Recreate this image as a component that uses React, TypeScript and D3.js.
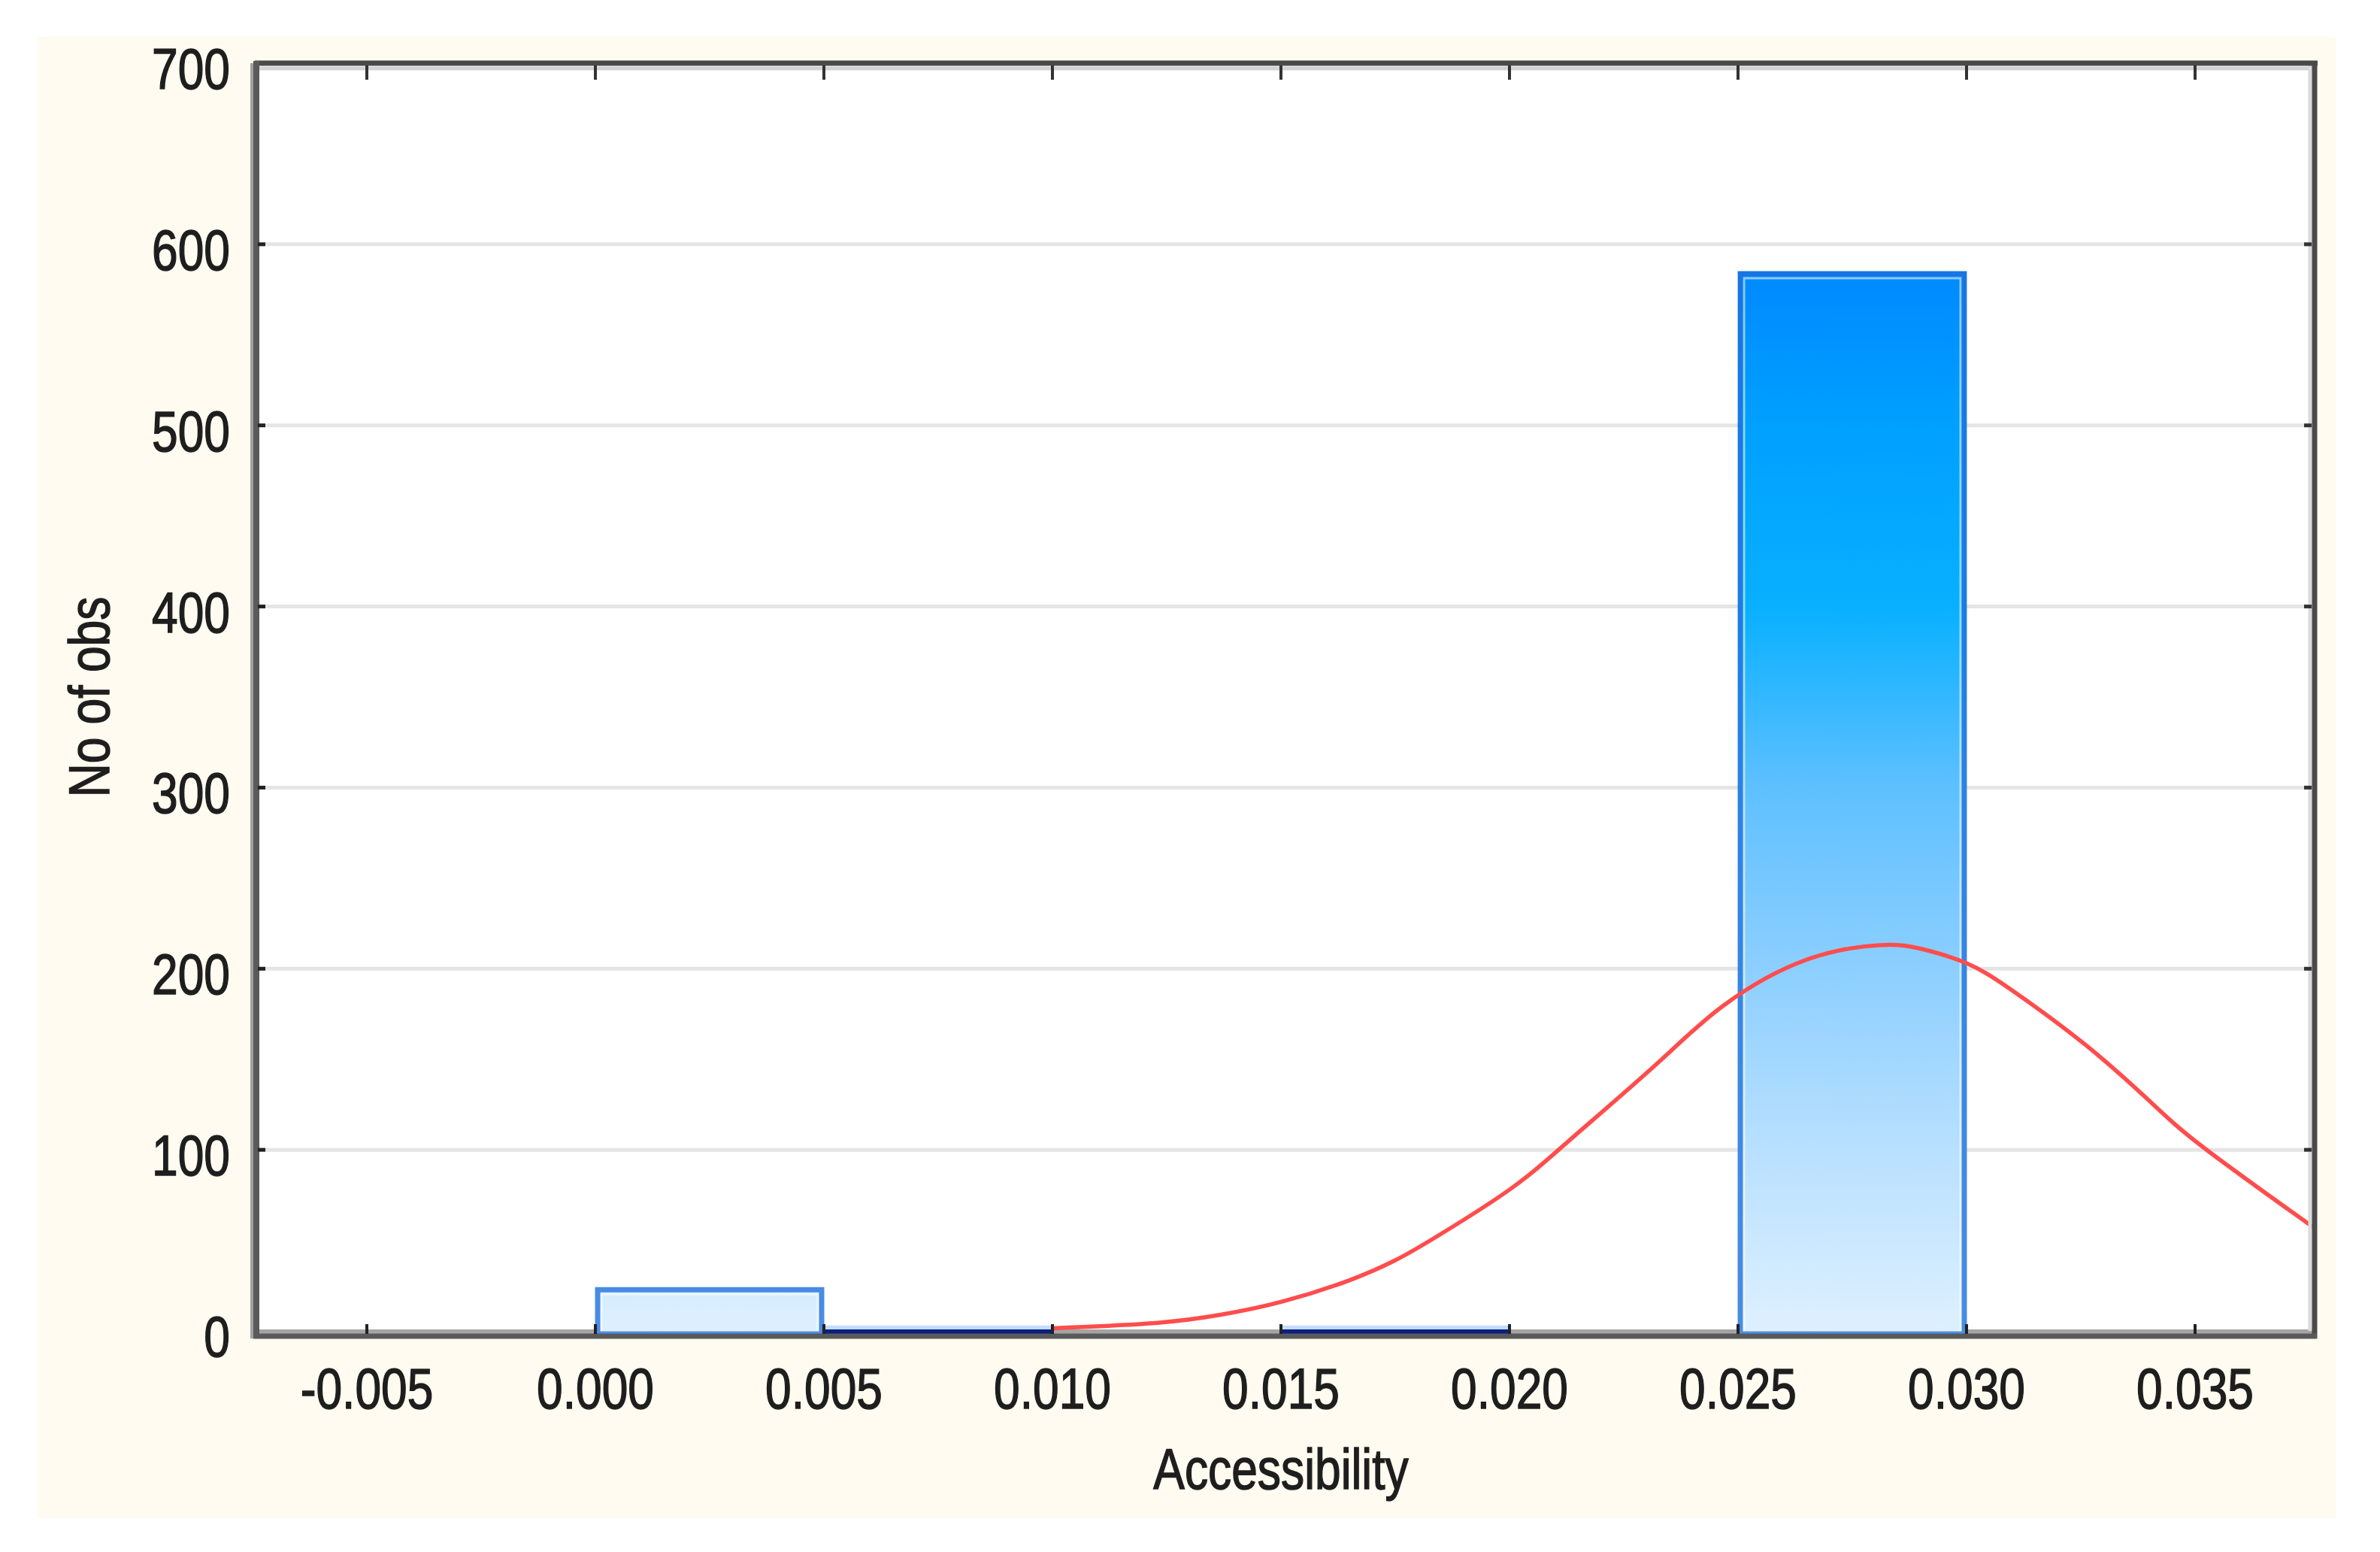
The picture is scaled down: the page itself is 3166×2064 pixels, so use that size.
import React from "react";
import * as d3 from "d3";

// ---- data ----
const binStarts = [0.0, 0.005, 0.01, 0.015, 0.02, 0.025];
const binWidth = 0.005;
const binCounts = [24, 3, 0, 3, 0, 585];

const curveX = [0.01, 0.0123, 0.0137, 0.015, 0.0165, 0.0175, 0.0184, 0.02, 0.0213, 0.0232, 0.0247, 0.0265, 0.0281, 0.029, 0.03, 0.031, 0.0326, 0.034, 0.0352, 0.0376];
const curveY = [1.5, 4.5, 9, 16, 28, 39, 52, 78, 105, 147, 180, 205, 213, 211, 203, 188, 158, 127, 101, 57];

const xTicks = [-0.005, 0.0, 0.005, 0.01, 0.015, 0.02, 0.025, 0.03, 0.035];
const xTickLabels = ["-0.005", "0.000", "0.005", "0.010", "0.015", "0.020", "0.025", "0.030", "0.035"];
const yTicks = [0, 100, 200, 300, 400, 500, 600, 700];
const xTitle = "Accessibility";
const yTitle = "No of obs";

const W = 3166;
const H = 2064;
const L = 339, R = 3079, T = 84, B = 1770;

const FONT = "'Liberation Sans', Arial, sans-serif";
const FS = 76;
const SX = 0.82;

export default function App() {
  const x = d3.scaleLinear().domain([-0.007451, 0.037615]).range([L, R]);
  const y = d3.scaleLinear().domain([0, 700]).range([B, T]);

  const line = d3
    .line<number>()
    .x((_, i) => x(curveX[i]))
    .y((d) => y(d))
    .curve(d3.curveNatural);

  const gradStops = [
    { v: 0, c: "#def0ff" },
    { v: 100, c: "#b8e0ff" },
    { v: 200, c: "#8ccfff" },
    { v: 300, c: "#5ec0ff" },
    { v: 400, c: "#08b0ff" },
    { v: 500, c: "#00a0ff" },
    { v: 590, c: "#0088ff" },
  ];

  return (
    <svg
      width={W}
      height={H}
      style={{ position: "absolute", left: 0, top: 0, display: "block" }}
      xmlns="http://www.w3.org/2000/svg"
    >
      <defs>
        <linearGradient id="barGrad" gradientUnits="userSpaceOnUse" x1={0} x2={0} y1={y(0)} y2={y(590)}>
          {gradStops.map((s, i) => (
            <stop key={i} offset={s.v / 590} stopColor={s.c} />
          ))}
        </linearGradient>
        <clipPath id="plotClip">
          <rect x={L} y={T} width={R - L} height={B - T + 4} />
        </clipPath>
      </defs>

      <rect x={0} y={0} width={W} height={H} fill="#ffffff" />
      <rect x={50} y={49} width={3057} height={1970} fill="#fffbf0" />
      <rect x={L} y={T} width={R - L} height={B - T + 6} fill="#ffffff" />

      {/* grid */}
      {yTicks.slice(1, -1).map((t) => (
        <line key={t} x1={L} x2={R} y1={y(t)} y2={y(t)} stroke="#e5e5e5" strokeWidth={5} />
      ))}

      {/* bottom axis light band */}
      <rect x={L} y={B - 2} width={R - L} height={6} fill="#a4a4a4" />

      {/* bars */}
      <g clipPath="url(#plotClip)">
        {binStarts.map((b, i) => {
          const c = binCounts[i];
          if (c <= 0) return null;
          const x0 = x(b);
          const x1 = x(b + binWidth);
          const yt = y(c);
          const h = B - yt;
          if (c < 10) {
            return (
              <g key={i}>
                <rect x={x0} y={yt} width={x1 - x0} height={h} fill="#c4dcfa" />
                <rect x={x0} y={B - 2} width={x1 - x0} height={6} fill="#0a1f80" />
              </g>
            );
          }
          return (
            <g key={i}>
              <rect x={x0} y={yt} width={x1 - x0} height={h + 4} fill="url(#barGrad)" />
              <rect
                x={x0 + 8}
                y={yt + 9}
                width={x1 - x0 - 16}
                height={h - 7}
                fill="none"
                stroke="#ffffff"
                strokeOpacity={0.55}
                strokeWidth={3}
              />
              <rect
                x={x0 + 3}
                y={yt + 3}
                width={x1 - x0 - 6}
                height={h + 1}
                fill="none"
                stroke="#1f6fdc"
                strokeOpacity={0.78}
                strokeWidth={7}
              />
            </g>
          );
        })}
      </g>

      {/* normal curve */}
      <g clipPath="url(#plotClip)">
        <path d={line(curveY) || ""} fill="none" stroke="#ff4d4d" strokeWidth={5.5} strokeLinejoin="round" />
      </g>

      {/* frame */}
      <line x1={L - 4} x2={L - 4} y1={T} y2={B + 10} stroke="#a0a0a0" strokeWidth={4} />
      <line x1={L} x2={R} y1={T + 7} y2={T + 7} stroke="#d2d2d2" strokeWidth={5} />
      <line x1={R - 6} x2={R - 6} y1={T} y2={B} stroke="#dadada" strokeWidth={5} />
      <line x1={L} x2={R + 4} y1={T} y2={T} stroke="#4a4a4a" strokeWidth={7} />
      <line x1={R} x2={R} y1={T - 3} y2={B + 10} stroke="#4a4a4a" strokeWidth={7} />
      <line x1={L + 2} x2={L + 2} y1={T - 3} y2={B + 10} stroke="#5a5a5a" strokeWidth={8} />
      <line x1={L - 2} x2={R + 3} y1={B + 7} y2={B + 7} stroke="#5a5a5a" strokeWidth={7} />

      {/* ticks */}
      {xTicks.map((t, i) => (
        <g key={i}>
          <line x1={x(t)} x2={x(t)} y1={T + 3} y2={T + 22} stroke="#333" strokeWidth={4} />
          <line x1={x(t)} x2={x(t)} y1={B - 9} y2={B + 4} stroke="#222" strokeWidth={4} />
        </g>
      ))}
      {yTicks.slice(1, -1).map((t) => (
        <g key={t}>
          <line x1={L + 4} x2={L + 14} y1={y(t)} y2={y(t)} stroke="#222" strokeWidth={5} />
          <line x1={R - 14} x2={R - 4} y1={y(t)} y2={y(t)} stroke="#333" strokeWidth={5} />
        </g>
      ))}

      {/* labels */}
      <g fontFamily={FONT} fontSize={FS} fill="#1e1e1e" stroke="#1e1e1e" strokeWidth={1.5}>
        {xTicks.map((t, i) => (
          <text key={i} textAnchor="middle" transform={`translate(${x(t)},1873) scale(${SX},1)`}>
            {xTickLabels[i]}
          </text>
        ))}
        {yTicks.map((t) => (
          <text key={t} textAnchor="end" transform={`translate(306,${y(t) + 34}) scale(${SX},1)`}>
            {t}
          </text>
        ))}
        <text textAnchor="middle" transform={`translate(1704,1980) scale(${SX},1)`}>
          {xTitle}
        </text>
        <text textAnchor="middle" transform={`translate(145,927) rotate(-90) scale(${SX},1)`}>
          {yTitle}
        </text>
      </g>
    </svg>
  );
}
